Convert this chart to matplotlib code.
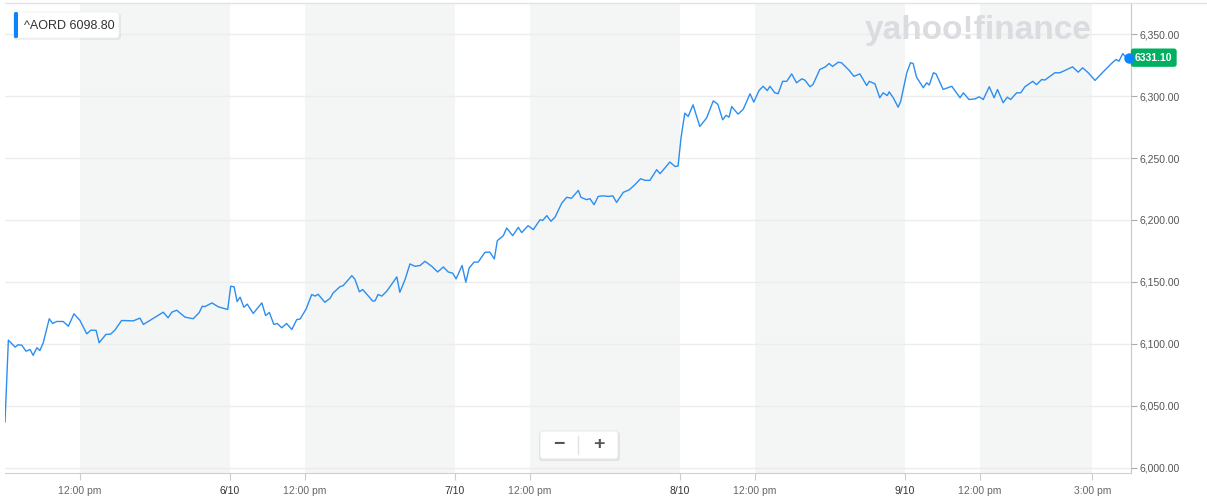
import matplotlib
matplotlib.use("Agg")
import matplotlib.pyplot as plt
import matplotlib.transforms as mtransforms
from matplotlib.patches import FancyBboxPatch
from matplotlib.lines import Line2D

plt.rcParams['font.family'] = ['Liberation Sans', 'DejaVu Sans']

# ^AORD, five trading days, x = trading hours since 5/10 10:00 (6 h per day)
hrs = [0.00, 0.09, 0.27, 0.35, 0.45, 0.56, 0.67, 0.75, 0.85, 0.93, 1.02, 1.18, 1.27, 1.38, 1.55,
       1.69, 1.84, 2.00, 2.18, 2.29, 2.43, 2.51, 2.69, 2.82, 2.93, 3.11, 3.42, 3.60, 3.69, 3.82,
       4.05, 4.22, 4.35, 4.45, 4.58, 4.80, 5.02, 5.18, 5.26, 5.33, 5.52, 5.69, 5.82, 5.94,
       6.02, 6.11, 6.19, 6.27, 6.37, 6.46, 6.62, 6.85, 6.95, 7.05, 7.17, 7.26, 7.38, 7.51, 7.65,
       7.78, 7.87, 8.03, 8.18, 8.27, 8.35, 8.53, 8.67, 8.75, 8.93, 9.02, 9.25, 9.33, 9.45, 9.54,
       9.81, 9.87, 9.95, 10.05, 10.18, 10.45, 10.53, 10.67, 10.80, 10.93, 11.07, 11.20, 11.38,
       11.54, 11.69, 11.82, 11.94,
       12.03, 12.19, 12.29, 12.38, 12.51, 12.62, 12.80, 12.93, 13.05, 13.13, 13.29, 13.38, 13.54,
       13.69, 13.78, 13.95, 14.09, 14.27, 14.34, 14.45, 14.56, 14.67, 14.85, 14.98, 15.11, 15.29,
       15.36, 15.51, 15.60, 15.71, 15.82, 15.95, 16.09, 16.21, 16.31, 16.49, 16.65, 16.80, 16.95,
       17.07, 17.20, 17.38, 17.47, 17.60, 17.73, 17.87, 17.95,
       18.03, 18.13, 18.22, 18.35, 18.53, 18.71, 18.89, 19.01, 19.14, 19.23, 19.31, 19.38, 19.55,
       19.69, 19.87, 19.97, 20.11, 20.22, 20.33, 20.40, 20.53, 20.62, 20.74, 20.85, 20.98, 21.11,
       21.25, 21.33, 21.47, 21.55, 21.73, 21.87, 21.98, 22.07, 22.22, 22.31, 22.51, 22.64, 22.80,
       22.98, 23.05, 23.20, 23.33, 23.42, 23.53, 23.58, 23.69, 23.82, 23.89,
       24.05, 24.15, 24.22, 24.31, 24.49, 24.58, 24.65, 24.76, 24.83, 25.02, 25.25, 25.47, 25.56,
       25.71, 25.87, 25.98, 26.09, 26.25, 26.38, 26.47, 26.62, 26.73, 26.82, 26.98, 27.09, 27.20,
       27.41, 27.51, 27.65, 27.73, 27.87, 28.00, 28.13, 28.27, 28.47, 28.62, 28.74, 28.89, 29.07,
       29.29, 29.51, 29.63, 29.71, 29.81, 29.87, 29.97]
prices = [6036.8, 6102.9, 6097.3, 6099.2, 6098.8, 6094.0, 6095.3, 6090.6, 6096.8, 6094.5, 6100.8,
          6120.2, 6116.4, 6118.0, 6118.0, 6114.2, 6124.2, 6118.8, 6108.0, 6111.0, 6110.8, 6100.8,
          6107.5, 6107.8, 6111.0, 6118.8, 6118.5, 6120.7, 6115.6, 6118.0, 6122.3, 6125.5, 6121.0,
          6125.5, 6127.1, 6121.5, 6120.2, 6125.2, 6130.3, 6130.0, 6133.0, 6129.8, 6128.7, 6127.7,
          6146.5, 6146.0, 6134.1, 6137.6, 6129.5, 6132.0, 6124.5, 6133.0, 6122.8, 6125.3, 6115.6,
          6116.4, 6112.9, 6116.4, 6111.5, 6119.5, 6120.0, 6128.0, 6139.8, 6138.5, 6140.0, 6133.5,
          6136.7, 6141.0, 6146.0, 6147.0, 6155.0, 6152.3, 6142.0, 6143.8, 6134.4, 6134.7, 6139.8,
          6138.5, 6142.4, 6154.0, 6141.6, 6151.9, 6164.5, 6162.6, 6163.2, 6166.6, 6162.6, 6158.0,
          6162.0, 6158.0, 6157.0,
          6152.4, 6163.2, 6149.7, 6161.3, 6165.9, 6166.0, 6173.9, 6174.0, 6168.5, 6183.3, 6187.3,
          6193.5, 6187.3, 6194.0, 6189.8, 6195.4, 6192.2, 6200.2, 6199.6, 6203.5, 6198.9, 6202.3,
          6213.7, 6218.3, 6217.5, 6223.9, 6218.3, 6216.4, 6217.2, 6212.3, 6219.0, 6219.5, 6219.0,
          6219.5, 6214.2, 6222.3, 6224.4, 6228.5, 6233.3, 6232.0, 6232.0, 6240.6, 6237.4, 6242.0,
          6246.8, 6243.2, 6243.5,
          6266.6, 6286.3, 6283.6, 6293.0, 6275.5, 6282.3, 6296.2, 6293.5, 6280.9, 6284.5, 6283.0,
          6291.6, 6285.5, 6289.5, 6301.9, 6295.2, 6304.6, 6308.0, 6304.5, 6308.0, 6302.7, 6302.0,
          6312.0, 6312.0, 6318.0, 6310.8, 6314.0, 6313.0, 6307.6, 6309.5, 6321.5, 6323.5, 6326.4,
          6324.0, 6327.4, 6327.0, 6321.0, 6316.0, 6318.0, 6308.6, 6312.0, 6310.0, 6298.7, 6302.7,
          6300.5, 6303.5, 6298.7, 6291.1, 6296.0,
          6318.9, 6327.0, 6326.4, 6315.4, 6306.8, 6310.8, 6309.0, 6318.9, 6318.0, 6305.4, 6308.0,
          6298.7, 6302.7, 6297.3, 6297.8, 6299.5, 6297.3, 6307.6, 6298.7, 6305.4, 6294.7, 6299.2,
          6297.3, 6302.7, 6302.7, 6307.6, 6312.0, 6309.3, 6313.5, 6313.0, 6316.1, 6318.9, 6318.9,
          6320.8, 6323.7, 6319.4, 6322.9, 6318.9, 6312.7, 6319.7, 6326.4, 6329.6, 6328.3, 6334.4,
          6332.3, 6331.1]

tick_pos = [2, 6, 8, 12, 14, 18, 20, 24, 26, 29]
tick_labels = ["12:00 pm", "6/10", "12:00 pm", "7/10", "12:00 pm", "8/10",
               "12:00 pm", "9/10", "12:00 pm", "3:00 pm"]
shade_start = [2, 8, 14, 20, 26]
shade_end = [6, 12, 18, 24, 29]
y_ticks = [6000, 6050, 6100, 6150, 6200, 6250, 6300, 6350]

symbol = "^AORD"
prev_close = "6098.80"
last_price = "6331.10"

W, H = 1207, 497
fig = plt.figure(figsize=(W / 100, H / 100), dpi=100)
ax = fig.add_axes([5 / W, 1 - 473 / H, 1126 / W, 470.3 / H])
ax.set_xlim(0, 30.03)
ax.set_ylim(5995.6, 6375.5)

# alternating shaded periods
for a, b in zip(shade_start, shade_end):
    ax.axvspan(a, b, color='#f4f5f5', lw=0, zorder=0)

ax.plot(hrs, prices, color='#2b8ef0', lw=1.0, zorder=3)
ax.plot(hrs[-1], prices[-1], 'o', ms=6.5, color='#0a84ff', clip_on=False, zorder=6)

ax.set_axisbelow(True)
ax.yaxis.grid(True, color='#ececec', lw=1)
ax.yaxis.tick_right()
ax.set_yticks(y_ticks)
ax.set_yticklabels([f"{v:,.2f}" for v in y_ticks])
ax.tick_params(axis='y', length=4, width=0.8, color='#aaaaaa', pad=2,
               labelsize=7.5, labelcolor='#555555')
ax.set_xticks(tick_pos)
ax.set_xticklabels(tick_labels)
ax.tick_params(axis='x', length=5, width=0.8, color='#cccccc', pad=4,
               labelsize=7.5, labelcolor='#666666')
for lbl in ax.get_xticklabels():
    if '/' in lbl.get_text():
        lbl.set_color('#333333')

for s in ['top', 'left']:
    ax.spines[s].set_visible(False)
ax.spines['right'].set_color('#c8c8c8')
ax.spines['bottom'].set_color('#d0d0d0')

# thin border line on top
fig.add_artist(Line2D([5 / W, 1], [1 - 2.5 / H] * 2, color='#e2e2ec', lw=1,
                      transform=fig.transFigure))

# last price tag
trans = mtransforms.blended_transform_factory(ax.transAxes, ax.transData)
ax.text(1.0 + 4 / 1126, prices[-1], last_price, transform=trans, ha='left', va='center',
        color='white', fontsize=7.5, fontweight='bold', zorder=5,
        bbox=dict(boxstyle='round,pad=0.4,rounding_size=0.25', fc='#00b061', ec='none'))

px = fig.dpi_scale_trans


def box(x0, y0, x1, y1, r=3, **kw):
    p = FancyBboxPatch((x0 / 100, (H - y1) / 100), (x1 - x0) / 100, (y1 - y0) / 100,
                       boxstyle=f'round,pad=0,rounding_size={r / 100}', transform=px, **kw)
    fig.add_artist(p)


# symbol label top left
box(13, 13, 121, 40, fc='#000000', ec='none', alpha=0.06)
box(14, 12, 119, 38, fc='white', ec='#eeeeee', lw=0.5)
box(14, 12, 18, 38, r=1.5, fc='#0a84ff', ec='none')
fig.text(24 / W, 1 - 25.5 / H, f"{symbol} {prev_close}", ha='left', va='center',
         fontsize=9, color='#333333')

# watermark
fig.text(978 / W, 1 - 30 / H, "yahoo!finance", ha='center', va='center', fontsize=24,
         fontweight='bold', color='#dadce0')

# zoom buttons
box(539, 432, 620, 461, fc='#000000', ec='none', alpha=0.07)
box(540, 431, 618, 459, fc='white', ec='#e6e6e6', lw=0.6)
fig.add_artist(Line2D([578 / W, 578 / W], [1 - 436 / H, 1 - 454 / H], color='#e2e2e2',
                      lw=1, transform=fig.transFigure))
fig.text(559 / W, 1 - 445 / H, "\u2212", ha='center', va='center', fontsize=14,
         fontweight='bold', color='#555555')
fig.text(599 / W, 1 - 445 / H, "+", ha='center', va='center', fontsize=14,
         fontweight='bold', color='#555555')

fig.savefig('out.png', dpi=100)
